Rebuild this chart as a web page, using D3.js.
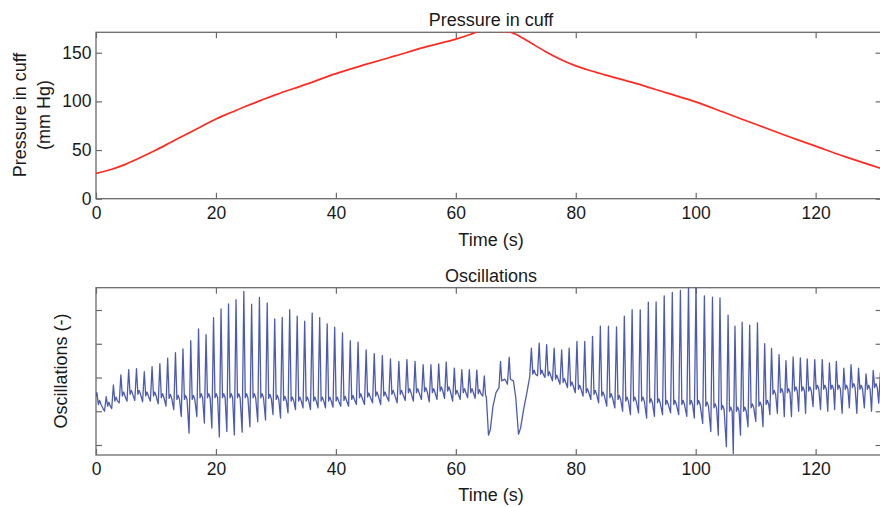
<!DOCTYPE html>
<html>
<head>
<meta charset="utf-8">
<script src="https://cdn.jsdelivr.net/npm/d3@7/dist/d3.min.js"></script>
<style>
  body { margin: 0; background: #fff; }
  svg { display: block; }
</style>
</head>
<body>
<div id="chart"></div>
<script>
// cuff pressure (mm Hg)
const pressureTime = [0, 2.5, 5, 7.5, 10, 12.5, 15, 17.5, 20, 22.5, 25, 27.5, 30, 35, 40, 45, 50, 55, 60, 62.5, 64, 65.5, 67, 69, 70, 72, 75, 77.5, 80, 82.5, 85, 90, 95, 100, 105, 110, 115, 120, 125, 131];
const pressureValue = [26, 30, 35.5, 42.5, 50, 58, 66, 74, 82, 88.5, 95, 101, 107, 117.5, 128.5, 138, 147, 156, 164, 169, 172.5, 174, 172, 171.5, 169, 162, 151, 143, 136.5, 131.5, 127, 118.5, 109, 99.5, 88, 76.5, 65, 54, 43, 31];

// oscillations: one entry per heart beat (time of the systolic peak, peak, trough before it, level after it)
const beatTime = [0.15, 1.7, 2.9, 4.15, 5.45, 6.75, 8.05, 9.35, 10.65, 11.95, 13.25, 14.5, 15.8, 17.1, 18.35, 19.6, 20.85, 22.1, 23.35, 24.65,
  25.95, 27.25, 28.55, 29.8, 31.05, 32.3, 33.55, 34.8, 36.05, 37.3, 38.55, 39.8, 41.1, 42.4, 43.7, 45.05, 46.4, 47.75, 49.1, 50.5,
  51.85, 53.2, 54.55, 55.85, 57.15, 58.4, 59.75, 61.0, 62.25, 63.5,
  72.6, 73.9, 75.15, 76.4, 77.65, 78.9, 80.2, 81.5, 82.8, 84.1, 85.45, 86.8, 88.1, 89.4, 90.75, 92.1, 93.4, 94.75, 96.1, 97.45,
  98.8, 100.05, 101.45, 102.8, 104.05, 105.4, 106.55, 107.75, 109.0, 110.3, 111.5, 112.65, 113.9, 115.05, 116.25, 117.45, 118.6, 119.85, 121.1, 122.3,
  123.45, 124.7, 125.9, 127.15, 128.4, 129.6, 130.8];
const beatPeak = [-0.45, -0.57, -0.22, 0.08, 0.23, 0.26, 0.17, 0.32, 0.41, 0.57, 0.74, 0.85, 1.09, 1.44, 1.27, 1.77, 2.03, 2.18, 2.31, 2.55,
  2.17, 2.37, 2.21, 1.74, 1.78, 2.01, 1.82, 1.67, 1.91, 1.77, 1.59, 1.49, 1.32, 1.09, 1.05, 0.82, 0.71, 0.65, 0.55, 0.48,
  0.53, 0.48, 0.38, 0.38, 0.40, 0.46, 0.28, 0.23, 0.23, 0.22,
  0.87, 1.02, 0.97, 0.87, 0.82, 0.87, 1.07, 1.07, 1.22, 1.52, 1.52, 1.5, 1.82, 2.01, 2.0, 2.23, 2.24, 2.42, 2.52, 2.58,
  2.72, 2.72, 2.42, 2.38, 2.36, 1.85, 1.52, 1.64, 1.55, 1.62, 1.0, 0.86, 0.68, 0.5, 0.61, 0.58, 0.55, 0.53, 0.53, 0.43,
  0.48, 0.28, 0.38, 0.28, 0.11, 0.21, 0.15];
const beatTrough = [-0.6, -1.0, -0.92, -0.75, -0.7, -0.68, -0.72, -0.7, -0.78, -0.85, -0.95, -1.15, -1.65, -1.16, -1.35, -1.5, -1.76, -1.6, -1.7, -1.62,
  -1.46, -1.31, -1.26, -1.1, -1.2, -1.05, -0.95, -0.9, -0.95, -0.9, -0.9, -0.88, -0.85, -0.85, -0.8, -0.8, -0.75, -0.8, -0.7, -0.75,
  -0.68, -0.7, -0.65, -0.72, -0.65, -0.62, -0.7, -0.65, -0.6, -0.62,
  0.0, 0.05, 0.0, -0.1, -0.2, -0.3, -0.45, -0.55, -0.65, -0.75, -0.85, -0.9, -1.0, -1.1, -1.05, -1.2, -1.15, -1.1, -1.05, -1.1,
  -1.15, -1.2, -1.36, -1.6, -1.71, -2.05, -2.25, -1.71, -1.46, -1.3, -1.46, -1.1, -1.06, -1.16, -1.16, -1.0, -1.06, -0.86, -0.95, -1.0,
  -0.95, -1.06, -0.9, -1.06, -0.9, -1.0, -0.76];
const beatNotch = [-0.8, -0.85, -0.7, -0.55, -0.5, -0.5, -0.55, -0.55, -0.6, -0.62, -0.65, -0.65, -0.65, -0.6, -0.6, -0.6, -0.6, -0.6, -0.6, -0.6,
  -0.6, -0.6, -0.62, -0.65, -0.68, -0.7, -0.7, -0.7, -0.7, -0.7, -0.7, -0.7, -0.68, -0.65, -0.6, -0.58, -0.55, -0.55, -0.5, -0.5,
  -0.45, -0.45, -0.42, -0.45, -0.4, -0.4, -0.5, -0.45, -0.45, -0.48,
  0.1, 0.1, 0.05, -0.05, -0.15, -0.25, -0.35, -0.45, -0.5, -0.55, -0.6, -0.65, -0.7, -0.7, -0.7, -0.75, -0.75, -0.8, -0.8, -0.8,
  -0.8, -0.8, -0.85, -0.9, -0.95, -1.0, -1.0, -1.0, -0.9, -0.85, -0.8, -0.5, -0.45, -0.45, -0.4, -0.4, -0.4, -0.35, -0.35, -0.35,
  -0.35, -0.35, -0.3, -0.35, -0.35, -0.3, -0.3];

// movement artefact around the top of the inflation (traced point by point)
const artifactTime = [64.5, 64.75, 64.95, 65.1, 65.45, 65.75, 66.2, 66.7, 67.2, 67.45, 67.65, 68.2, 68.6, 68.9, 69.1, 69.6, 70.0, 70.45, 70.8, 71.3, 71.9, 72.3];
const artifactValue = [-0.55, 0.05, -0.5, -0.6, -1.71, -1.55, -0.85, -0.45, -0.3, 0.48, -0.1, -0.05, -0.2, 0.6, -0.05, -0.1, -0.6, -1.68, -1.5, -0.95, -0.4, 0.0];

const timeTicks = [0, 20, 40, 60, 80, 100, 120];
const pressureTicks = [0, 50, 100, 150];
const oscTicks = [-2, -1, 0, 1, 2];

const FONT = "'Liberation Sans', Arial, Helvetica, sans-serif";

let svg = d3.select("#chart")
  .append("svg")
  .attr("width", 880)
  .attr("height", 507)
  .attr("font-family", FONT);

let x = d3.scaleLinear().domain([0, 131]).range([96, 881.6]);
let yP = d3.scaleLinear().domain([0, 171]).range([198.7, 32.3]);
let yO = d3.scaleLinear().domain([-2.296, 2.661]).range([455, 287.7]);

function panel(id, y, yTicks, showLabels) {
  let [bottom, top] = y.range();
  let [x0, x1] = x.range();

  svg.append("clipPath").attr("id", id)
    .append("rect")
    .attr("x", x0).attr("y", top)
    .attr("width", x1 - x0).attr("height", bottom - top);

  let axes = [
    [d3.axisBottom(x).tickValues(timeTicks).tickPadding(8), `translate(0,${bottom})`, true],
    [d3.axisTop(x).tickValues(timeTicks), `translate(0,${top})`, false],
    [d3.axisLeft(y).tickValues(yTicks).tickPadding(4.5), `translate(${x0},0)`, showLabels],
    [d3.axisRight(y).tickValues(yTicks), `translate(${x1},0)`, false]
  ];
  axes.forEach(([ax, tr, labels]) => {
    let g = svg.append("g")
      .attr("transform", tr)
      .call(ax.tickSizeInner(-6).tickSizeOuter(0).tickFormat(labels ? d3.format("d") : ""))
      .attr("font-family", FONT)
      .attr("font-size", 17.5)
      .attr("color", "#6a6a6a");
    g.select(".domain").remove();
    g.selectAll(".tick line").attr("stroke-width", 1.2);
    g.selectAll(".tick text").attr("fill", "#1a1a1a");
  });

  svg.append("rect")
    .attr("x", x0).attr("y", top)
    .attr("width", x1 - x0).attr("height", bottom - top)
    .attr("fill", "none")
    .attr("stroke", "#6a6a6a")
    .attr("stroke-width", 1.3);
}

panel("clip-p", yP, pressureTicks, true);
panel("clip-o", yO, oscTicks, false);

// pressure line
let pressure = pressureTime.map((t, i) => [t, pressureValue[i]]);
svg.append("path")
  .datum(pressure)
  .attr("clip-path", "url(#clip-p)")
  .attr("fill", "none")
  .attr("stroke", "#ff2a22")
  .attr("stroke-width", 1.7)
  .attr("d", d3.line().x(d => x(d[0])).y(d => yP(d[1])).curve(d3.curveCatmullRom.alpha(0.5)));

// oscillation trace: trough -> systolic peak -> notch -> small rebound, for each beat
let osc = [];
beatTime.forEach((t, i) => {
  osc.push([t - 0.28, beatTrough[i]]);
  osc.push([t, beatPeak[i]]);
  osc.push([t + 0.24, beatNotch[i]]);
  osc.push([t + 0.45, beatNotch[i] + 0.12]);
  osc.push([t + 0.68, beatNotch[i]]);
});
artifactTime.forEach((t, i) => osc.push([t, artifactValue[i]]));
osc.sort((a, b) => a[0] - b[0]);

svg.append("path")
  .datum(osc)
  .attr("clip-path", "url(#clip-o)")
  .attr("fill", "none")
  .attr("stroke", "#3848a8")
  .attr("stroke-width", 1.3)
  .attr("stroke-opacity", 0.9)
  .attr("stroke-linejoin", "round")
  .attr("d", d3.line().x(d => x(d[0])).y(d => yO(d[1])));

// titles and axis labels
let txt = (xx, yy, s, rot) => svg.append("text")
  .attr("transform", `translate(${xx},${yy})` + (rot ? " rotate(-90)" : ""))
  .attr("text-anchor", "middle")
  .attr("font-size", 18)
  .attr("fill", "#1a1a1a")
  .text(s);

txt(491, 25.5, "Pressure in cuff");
txt(491, 245.5, "Time (s)");
txt(25.5, 115, "Pressure in cuff", true);
txt(49.5, 115, "(mm Hg)", true);

txt(491, 281.5, "Oscillations");
txt(491, 500.5, "Time (s)");
txt(66.5, 371, "Oscillations (-)", true);
</script>
</body>
</html>
